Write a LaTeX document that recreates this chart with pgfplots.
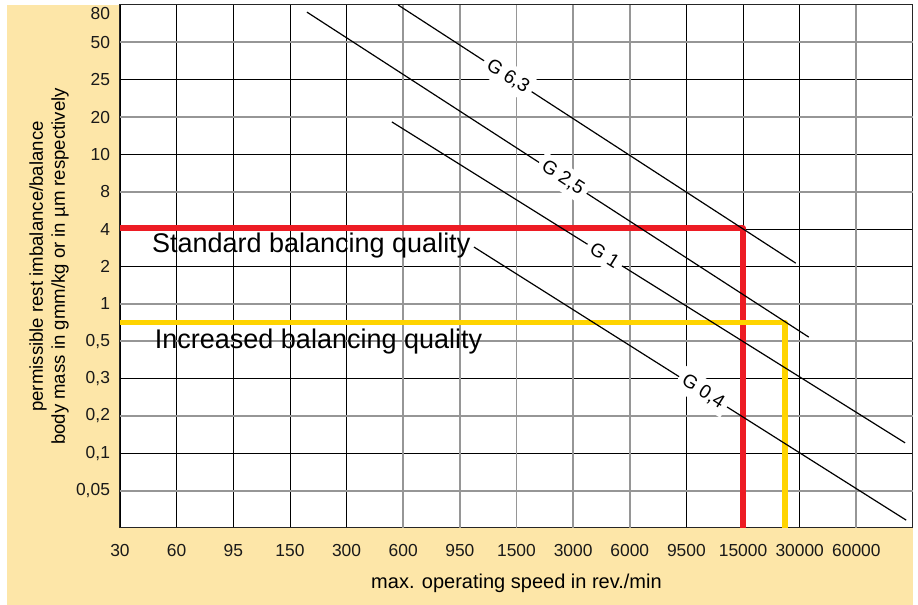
\documentclass[border=0pt]{standalone}
\usepackage{pgfplots}
\pgfplotsset{compat=1.18}
\usepackage{fontspec}
\setmainfont{Liberation Sans}
\definecolor{beige}{RGB}{253,230,168}
\definecolor{rline}{RGB}{237,28,36}
\definecolor{yline}{RGB}{255,212,0}
\definecolor{gridgrey}{RGB}{150,150,150}
\begin{document}
\begin{tikzpicture}
\useasboundingbox (-60pt,-38.5pt) rectangle (399pt,264pt);
\fill[beige] (-56.5pt,-38.5pt) rectangle (396.5pt,261.5pt);
\begin{axis}[
  scale only axis, width=396.5pt, height=261.5pt,
  xmin=0, xmax=14, ymin=0, ymax=14,
  clip=false,
  axis background/.style={fill=white},
  axis line style={black!85, line width=0.5pt},
  major tick length=0pt,
  /pgf/number format/assume math mode=true,
  grid=major,
  grid style={black, line width=0.4pt},
  xtick={0,1,2,3,4,10,11,12},
  xticklabels={30,60,95,150,300,9500,15000,30000},
  extra x ticks={5,6,7,8,9,13},
  extra x tick labels={600,950,1500,3000,6000,60000},
  extra x tick style={grid style={gridgrey, line width=0.9pt}},
  ytick={2,4,7,8,10,12},
  yticklabels={{0,1},{0,3},2,4,10,25},
  extra y ticks={1,3,5,6,9,11,13},
  extra y tick labels={{0,05},{0,2},{0,5},1,8,20,50},
  extra y tick style={grid style={gridgrey, line width=0.9pt}},
  ticklabel style={font=\fontsize{8.7}{10}\selectfont, text=black!90},
  xticklabel style={yshift=-4.5pt},
  yticklabel style={xshift=-1.5pt},
  xlabel={max. operating speed in rev./min},
  xlabel style={font=\fontsize{9.2}{11}\selectfont},
  every axis x label/.style={at={(rel axis cs:0.5,0)}, yshift=-27.5pt, anchor=center},
  ylabel={permissible rest imbalance/balance\\body mass in gmm/kg or in µm respectively},
  every axis y label/.style={at={(rel axis cs:0,0.5)}, xshift=-35.5pt, rotate=90, anchor=center, align=center, font=\fontsize{9.3}{11}\selectfont},
]
% quality limits
\addplot[rline, line width=2.6pt, line join=round] coordinates {(0,8.03) (11.0,8.03) (11.0,0)};
\addplot[yline, line width=2.6pt, line join=round] coordinates {(0,5.51) (11.74,5.51) (11.74,0)};
% balancing grade lines
\addplot[black, line width=0.6pt] coordinates {(4.91,14.0) (11.93,7.09)}
  node[pos=0.276, sloped, fill=white, inner sep=2.5pt, font=\fontsize{9.5}{10}\selectfont] {G 6,3};
\addplot[black, line width=0.6pt] coordinates {(3.30,13.81) (12.16,5.11)}
  node[pos=0.51, sloped, fill=white, inner sep=2.5pt, font=\fontsize{9.5}{10}\selectfont] {G 2,5};
\addplot[black, line width=0.6pt] coordinates {(4.80,10.87) (13.86,2.28)}
  node[pos=0.415, sloped, fill=white, inner sep=2.5pt, font=\fontsize{9.5}{10}\selectfont] {G 1};
\addplot[black, line width=0.6pt] coordinates {(6.25,7.52) (13.88,0.21)}
  node[pos=0.53, sloped, fill=white, inner sep=2.5pt, font=\fontsize{9.5}{10}\selectfont] {G 0,4};
\node[anchor=west, inner sep=0pt, font=\fontsize{13.5}{15}\selectfont] at (axis cs:0.56,7.55) {Standard balancing quality};
\node[anchor=west, inner sep=0pt, font=\fontsize{13.5}{15}\selectfont] at (axis cs:0.61,5.0) {Increased balancing quality};
\node[anchor=east, xshift=-1.5pt, font=\fontsize{8.7}{10}\selectfont, text=black!90] at (axis cs:0,13.78) {80};
\end{axis}
\end{tikzpicture}
\end{document}
